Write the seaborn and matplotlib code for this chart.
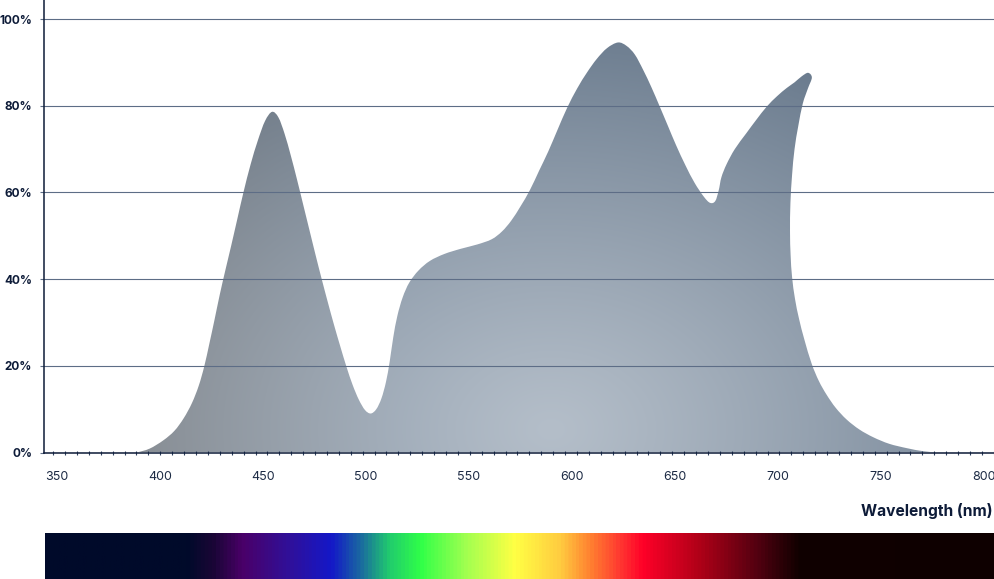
import numpy as np
import matplotlib
matplotlib.use("Agg")
import matplotlib.pyplot as plt
from matplotlib.path import Path
from matplotlib.patches import PathPatch
from matplotlib.colors import LinearSegmentedColormap, to_rgb
import seaborn as sns

sns.set_theme(style="white")
plt.rcParams["font.family"] = ["Inter", "DejaVu Sans"]

# --- data: outline of the light spectrum (wavelength nm, relative intensity %) ---
outline_nm = [388.8, 395.0, 401.6, 407.0, 411.5, 415.5, 418.8, 421.5, 424.0, 426.5,
              429.0, 431.8, 434.5, 437.5, 440.5, 444.0, 447.5, 451.0, 454.4, 457.5,
              460.5, 463.5, 466.5, 469.5, 472.5, 475.5, 478.5, 481.5, 484.5, 487.5,
              490.5, 493.5, 496.5, 499.5, 502.3, 505.0, 507.5, 509.7, 511.5, 513.2,
              515.2, 517.8, 521.0, 525.5, 531.0, 538.0, 546.0, 554.0, 561.0, 566.0,
              570.5, 575.0, 579.5, 584.0, 588.5, 593.0, 597.6, 602.5, 607.3, 612.0,
              617.0, 622.3, 626.5, 630.5, 634.5, 638.5, 642.5, 646.5, 650.5, 655.0,
              659.5, 664.0, 667.0, 669.5, 671.2, 672.5, 675.0, 679.0, 684.5, 689.5,
              694.5, 699.5, 704.2, 708.0, 711.5, 714.6, 716.4, 714.5, 712.0, 709.8,
              708.0, 706.8, 706.0, 705.8, 706.1, 706.8, 708.2, 710.2, 712.8, 716.3,
              719.8, 723.6, 728.0, 733.3, 739.5, 746.3, 754.0, 762.5, 770.4, 777.2]
outline_pct = [0.0, 0.9, 2.8, 5.0, 7.9, 11.4, 15.4, 19.9, 25.2, 30.7,
               36.4, 42.2, 47.6, 53.8, 60.0, 66.5, 72.0, 76.5, 78.6, 77.3,
               73.5, 68.5, 63.0, 57.2, 51.4, 45.6, 40.0, 34.6, 29.4, 24.5,
               19.8, 15.6, 12.2, 9.8, 9.0, 10.0, 12.5, 16.3, 21.0, 26.5,
               31.5, 35.8, 39.2, 42.0, 44.2, 45.8, 47.0, 48.0, 49.2, 51.0,
               53.5, 56.8, 60.5, 65.0, 69.5, 74.5, 79.5, 84.0, 87.7, 90.8,
               93.3, 94.6, 93.8, 91.8, 88.3, 84.3, 79.9, 75.4, 70.9, 66.3,
               62.2, 59.0, 57.6, 58.0, 60.5, 63.5, 66.5, 70.0, 73.6, 76.8,
               79.8, 82.2, 84.1, 85.4, 86.8, 87.6, 86.5, 84.0, 80.5, 75.3,
               70.0, 64.0, 57.5, 51.0, 45.5, 40.5, 35.5, 30.8, 26.0, 20.5,
               16.5, 13.3, 10.3, 7.6, 5.3, 3.5, 2.0, 1.0, 0.3, 0.0]

y_ticks = [0, 20, 40, 60, 80, 100]
y_labels = ["0%", "20%", "40%", "60%", "80%", "100%"]
x_ticks = [350, 400, 450, 500, 550, 600, 650, 700, 750, 800]

# visible spectrum colour stops under the chart
band_nm = [343.7, 412, 425, 439, 462, 482.5, 497, 510, 526, 548, 572, 594, 609,
           625, 634.5, 662, 691, 710.7, 805.3]
band_colors = ["#000a2a", "#000a2a", "#1a0636", "#4a0068", "#30109a", "#1418c8",
               "#1a6aa0", "#20c870", "#30ff48", "#a0ff50", "#ffff44", "#ffcc40",
               "#ff8030", "#ff3030", "#ff0028", "#b00018", "#500010", "#100000",
               "#0e0000"]

XMIN, XMAX = 343.7, 805.3
YMIN, YMAX = 0, 104.4
NAVY = "#0d1b38"
GRID = "#5d6d86"


def smooth_outline(xs, ys):
    """Catmull-Rom through the outline points, closed along the baseline."""
    pts = np.column_stack([xs, ys])
    ext = np.vstack([pts[0], pts, pts[-1]])
    verts = [pts[0]]
    codes = [Path.MOVETO]
    for i in range(1, len(ext) - 2):
        p0, p1, p2, p3 = ext[i - 1], ext[i], ext[i + 1], ext[i + 2]
        verts += [p1 + (p2 - p0) / 6, p2 - (p3 - p1) / 6, p2]
        codes += [Path.CURVE4] * 3
    verts += [pts[0], pts[0]]
    codes += [Path.LINETO, Path.CLOSEPOLY]
    return Path(verts, codes)


fig = plt.figure(figsize=(9.95, 5.79), dpi=100)
ax = fig.add_axes([44 / 995, 1 - 452.5 / 579, 951 / 995, 452.5 / 579])

# --- filled spectrum with soft radial shading ---
patch = PathPatch(smooth_outline(outline_nm, outline_pct), facecolor="none",
                  edgecolor="none")
ax.add_patch(patch)

gx = np.linspace(XMIN, XMAX, 500)
gy = np.linspace(YMIN, YMAX, 250)
X, Y = np.meshgrid(gx, gy)
t = np.clip(np.sqrt(((X - 590) / 280) ** 2 + ((Y - 5) / 100) ** 2), 0, 1) ** 1.15
light = np.array(to_rgb("#b4bec9"))
dark = np.array(to_rgb("#66778a"))
rgb = light + (dark - light) * t[..., None]
gray = rgb.mean(axis=2, keepdims=True) * np.ones(3)
w = np.clip((520 - X) / 130, 0, 1)[..., None] * 0.6
rgb = rgb * (1 - w) + gray * w
img = ax.imshow(rgb, extent=[XMIN, XMAX, YMIN, YMAX], origin="lower",
                aspect="auto", interpolation="bilinear", zorder=1)
img.set_clip_path(patch)

# --- axes styling ---
ax.set_xlim(XMIN, XMAX)
ax.set_ylim(YMIN, YMAX)
ax.set_axisbelow(False)
ax.set_yticks(y_ticks)
ax.set_yticklabels(y_labels)
ax.yaxis.grid(True, color=GRID, linewidth=0.8)
ax.xaxis.grid(False)
ax.tick_params(axis="y", length=3, width=0.8, color=GRID, pad=5.5,
               labelsize=8.5, labelcolor=NAVY, left=True)
for lab in ax.get_yticklabels():
    lab.set_fontweight("bold")

ax.set_xticks(x_ticks)
ax.set_xticks(np.arange(348.1, 806, 5.78), minor=True)
ax.tick_params(axis="x", which="major", length=0, pad=13, labelsize=9,
               labelcolor="#1d2b45")
ax.tick_params(axis="x", which="minor", direction="inout", length=3.5,
               width=0.8, color="#2c3e5c", bottom=True)

sns.despine(ax=ax, top=True, right=True)
for side in ("left", "bottom"):
    ax.spines[side].set_color(NAVY)
    ax.spines[side].set_linewidth(1.1)
    ax.spines[side].set_zorder(4)

fig.text(993 / 995, 1 - 511 / 579, "Wavelength (nm)", ha="right", va="center",
         fontsize=11.2, fontweight="bold", color=NAVY)

# --- spectrum colour bar ---
bar = fig.add_axes([45 / 995, 0, 950 / 995, 46 / 579])
pos = [(n - XMIN) / (XMAX - XMIN) for n in band_nm]
cmap = LinearSegmentedColormap.from_list("spectrum", list(zip(pos, band_colors)))
bar.imshow(np.linspace(0, 1, 1000)[None, :], cmap=cmap, aspect="auto",
           extent=[XMIN, XMAX, 0, 1])
bar.set_xlim(XMIN, XMAX)
bar.axis("off")

fig.savefig("out.png", dpi=100)
plt.close(fig)
